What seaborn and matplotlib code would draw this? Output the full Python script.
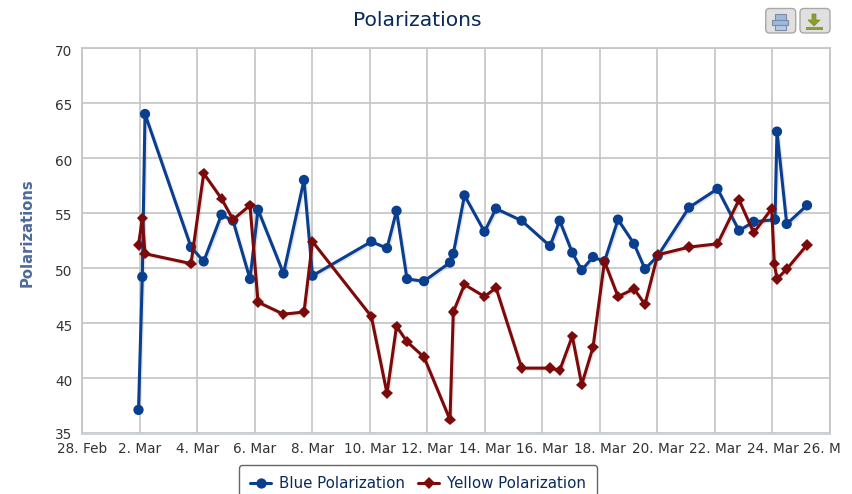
import matplotlib
matplotlib.use("Agg")
import matplotlib.pyplot as plt
import matplotlib.patheffects as pe
from matplotlib.patches import FancyBboxPatch, Rectangle, Polygon
from matplotlib.transforms import Affine2D
import pandas as pd
import seaborn as sns

# days since 28 Feb
blue_days = [1.964, 2.096, 2.190, 3.789, 4.230, 4.849, 5.249, 5.839, 6.118, 7.004, 7.716,
             8.012, 10.056, 10.601, 10.932, 11.297, 11.887, 12.791, 12.906, 13.295, 13.990,
             14.390, 15.283, 16.267, 16.604, 17.042, 17.369, 17.762, 18.161, 18.631, 19.187,
             19.569, 20.011, 21.099, 22.089, 22.837, 23.348, 24.088, 24.157, 24.495, 25.201]
blue_values = [37.1, 49.2, 64.0, 51.9, 50.6, 54.85, 54.3, 49.0, 55.3, 49.5, 58.0,
               49.3, 52.4, 51.8, 55.2, 49.0, 48.8, 50.5, 51.3, 56.6, 53.3,
               55.4, 54.3, 52.0, 54.3, 51.4, 49.8, 51.0, 50.6, 54.4, 52.2,
               49.9, 51.1, 55.5, 57.2, 53.4, 54.2, 54.4, 62.4, 54.0, 55.7]
yellow_days = [1.964, 2.096, 2.190, 3.789, 4.230, 4.849, 5.249, 5.839, 6.118, 7.004, 7.716,
               8.012, 10.056, 10.601, 10.932, 11.297, 11.887, 12.791, 12.906, 13.295, 13.990,
               14.390, 15.283, 16.267, 16.604, 17.042, 17.369, 17.762, 18.161, 18.631, 19.187,
               19.569, 20.011, 21.099, 22.089, 22.837, 23.348, 23.973, 24.064, 24.157, 24.495, 25.201]
yellow_values = [52.1, 54.5, 51.3, 50.4, 58.6, 56.3, 54.4, 55.7, 46.9, 45.8, 46.0,
                 52.4, 45.6, 38.6, 44.7, 43.3, 41.9, 36.2, 46.0, 48.5, 47.4,
                 48.2, 40.9, 40.9, 40.7, 43.8, 39.4, 42.8, 50.6, 47.4, 48.1,
                 46.7, 51.2, 51.9, 52.2, 56.2, 53.2, 55.4, 50.4, 49.0, 49.9, 52.1]
x_ticks = [0, 2, 4, 6, 8, 10, 12, 14, 16, 18, 20, 22, 24, 26]
x_labels = ["28. Feb", "2. Mar", "4. Mar", "6. Mar", "8. Mar", "10. Mar", "12. Mar",
            "14. Mar", "16. Mar", "18. Mar", "20. Mar", "22. Mar", "24. Mar", "26. M"]
y_ticks = [35, 40, 45, 50, 55, 60, 65, 70]

BLUE = "#0a3e8f"
RED = "#7d0a0a"
GRID = "#c6c6c6"
W, H = 852, 494

sns.set_theme(style="white")
plt.rcParams["font.family"] = ["DejaVu Sans"]
fig = plt.figure(figsize=(W / 100, H / 100), dpi=100, facecolor="white")
ax = fig.add_axes([82 / W, 1 - 433 / H, (830 - 82) / W, (433 - 48) / H])

blue = pd.DataFrame({"day": blue_days, "value": blue_values})
yellow = pd.DataFrame({"day": yellow_days, "value": yellow_values})
sns.lineplot(data=blue, x="day", y="value", ax=ax, sort=False, estimator=None, color=BLUE,
             linewidth=2.2, marker="o", markersize=7.4, markeredgewidth=0, label="Blue Polarization")
sns.lineplot(data=yellow, x="day", y="value", ax=ax, sort=False, estimator=None, color=RED,
             linewidth=2.2, marker="D", markersize=5.8, markeredgewidth=0, label="Yellow Polarization")
shadow = [pe.SimpleLineShadow(offset=(1, -1), alpha=0.15, shadow_color="#555555"), pe.Normal()]
for line in ax.get_lines():
    line.set_path_effects(shadow)
    line.set_clip_on(False)

ax.set_xlim(0, 26)
ax.set_ylim(35, 70)
ax.set_xticks(x_ticks)
ax.set_xticklabels(x_labels)
ax.set_yticks(y_ticks)
ax.set_axisbelow(True)
ax.grid(True, color=GRID, linewidth=1.25)
ax.tick_params(axis="x", length=6, width=1, color="#c0d0e0", labelsize=9.8, labelcolor="#333333", pad=0)
ax.tick_params(axis="y", length=0, labelsize=9.8, labelcolor="#333333", pad=7)
for lab, value in zip(ax.get_yticklabels(), y_ticks):
    shift = 0 if value == 35 else -2
    lab.set_transform(lab.get_transform() + Affine2D().translate(0, shift))
for s in ax.spines.values():
    s.set_color(GRID)
    s.set_linewidth(1.3)
ax.spines["bottom"].set_color("#c0d0e0")
ax.spines["bottom"].set_position(("outward", 0.8))

# the last date label runs off the chart's right boundary in the source: only "26. M" shows
last = ax.get_xticklabels()[-1]
last.set_horizontalalignment("left")
last.set_transform(last.get_transform() + Affine2D().translate(-27, 0))

ax.set_xlabel("")
ax.set_ylabel("")
fig.text(417.5 / W, 1 - 20 / H, "Polarizations", ha="center", va="center",
         fontsize=14.6, color="#0b2a5c")
fig.text(27 / W, 1 - 233 / H, "Polarizations", rotation=90, ha="center", va="center",
         fontsize=10.6, fontweight="bold", color="#4d6a9c")

leg = ax.legend(loc="upper center", bbox_to_anchor=(418 / W, 1 - 465 / H), bbox_transform=fig.transFigure,
                ncol=2, fontsize=10.8, frameon=True, fancybox=True, framealpha=1, edgecolor="#666666",
                borderaxespad=0, borderpad=0.75, handlelength=1.4, handletextpad=0.47, columnspacing=0.93,
                labelcolor="#0b2a5c")
leg.get_frame().set_linewidth(1.0)
for h in leg.get_lines():
    h.set_path_effects([])

# export buttons
to_fig = Affine2D().scale(1, -1).translate(0, H)
def add(p):
    p.set_transform(to_fig)
    fig.add_artist(p)
for x0 in (765.7, 800):
    add(FancyBboxPatch((x0 + 2, 10.5), 26, 20.5, boxstyle="round,pad=2,rounding_size=4",
                       facecolor="#e0e0e0", edgecolor="#a8a8a8", linewidth=1))
add(Rectangle((775, 14), 10.5, 6, facecolor="#9db8dc", edgecolor="#7c8ca4", linewidth=0.8))
add(Rectangle((772, 20), 16, 5, facecolor="#9db8dc", edgecolor="#7c8ca4", linewidth=0.8))
add(Rectangle((775, 25), 10.5, 4.5, facecolor="#b8c8e0", edgecolor="#7c8ca4", linewidth=0.8))
add(Polygon([(812, 14), (816, 14), (816, 20), (820, 20), (814, 26), (808, 20), (812, 20)],
            facecolor="#8aa02c", edgecolor="#76882a", linewidth=0.5))
add(Rectangle((806, 27), 16.5, 2.8, facecolor="#8a9a40", edgecolor="none"))

fig.savefig("out.png", dpi=100)
